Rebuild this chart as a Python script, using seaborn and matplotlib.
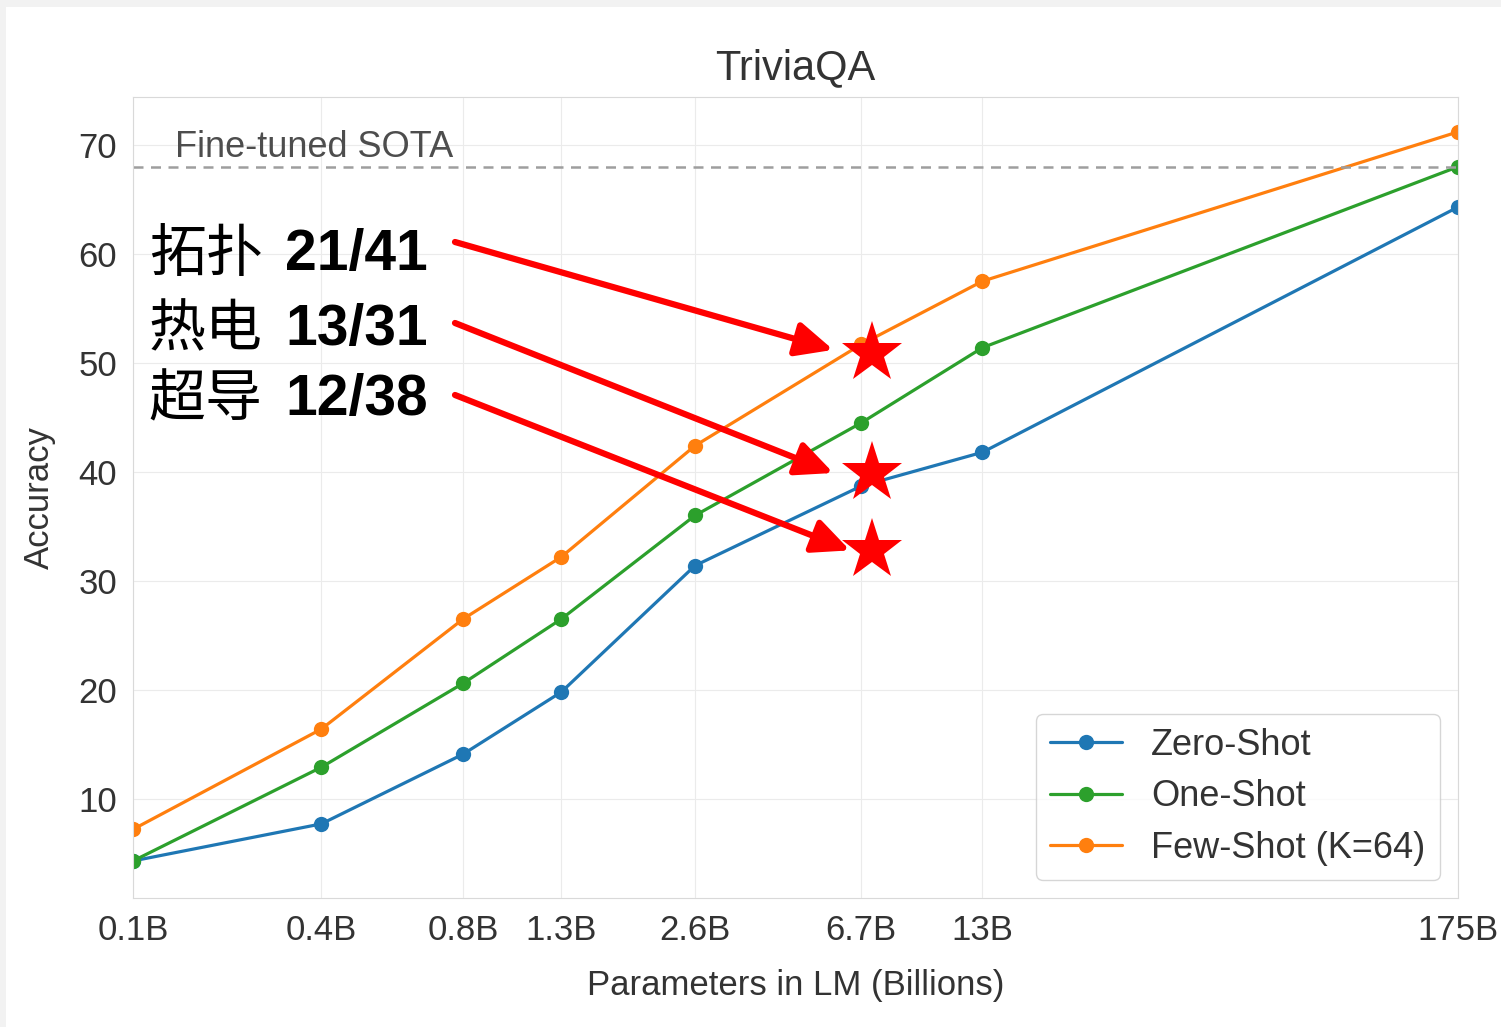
"""
TriviaQA accuracy vs. model size, with annotated stars.
"""
import numpy as np
import pandas as pd
import matplotlib
matplotlib.use("Agg")
import matplotlib.pyplot as plt
import seaborn as sns
from matplotlib.ticker import NullLocator
from matplotlib.patches import Rectangle

# datos
params_b = [0.125, 0.35, 0.76, 1.3, 2.7, 6.7, 13, 175]
tick_labels = ["0.1B", "0.4B", "0.8B", "1.3B", "2.6B", "6.7B", "13B", "175B"]
zero_shot = [4.3, 7.7, 14.1, 19.8, 31.4, 38.7, 41.8, 64.3]
one_shot = [4.3, 12.9, 20.6, 26.5, 36.0, 44.5, 51.4, 68.0]
few_shot = [7.2, 16.4, 26.5, 32.2, 42.4, 51.7, 57.5, 71.2]
series_names = ["Zero-Shot", "One-Shot", "Few-Shot (K=64)"]
sota = 68.0

notes_cn = ["拓扑", "热电", "超导"]
notes_num = ["21/41", "13/31", "12/38"]
star_x = 7.1
star_y = [50.9, 39.9, 32.8]
arrow_tip = [(5.75, 51.2), (5.75, 39.9), (6.3, 32.8)]

df = pd.DataFrame({
    "params": params_b * 3,
    "acc": zero_shot + one_shot + few_shot,
    "setting": [s for s in series_names for _ in params_b],
})

sns.set_style("whitegrid", {"axes.edgecolor": ".85", "grid.color": ".92"})
plt.rcParams["font.family"] = ["Liberation Sans", "Noto Sans CJK SC"]
plt.rcParams["text.color"] = ".2"
plt.rcParams["axes.labelcolor"] = ".2"
plt.rcParams["xtick.color"] = ".2"
plt.rcParams["ytick.color"] = ".2"

fig = plt.figure(figsize=(15.01, 10.27), dpi=100, facecolor="#f2f2f2")
fig.patches.append(Rectangle((6 / 1501, 0), 1, 1 - 7 / 1027, transform=fig.transFigure,
                             facecolor="white", edgecolor="none", zorder=-1))
ax = fig.add_axes([133 / 1501, 1 - 898 / 1027, 1325 / 1501, 801 / 1027])

palette = {"Zero-Shot": "#1f77b4", "One-Shot": "#2ca02c", "Few-Shot (K=64)": "#ff7f0e"}
sns.lineplot(data=df, x="params", y="acc", hue="setting", hue_order=series_names,
             palette=palette, marker="o", markersize=11, markeredgewidth=0,
             linewidth=2.3, ax=ax)

ax.axhline(sota, color="0.62", ls="--", lw=1.8, dashes=(4, 3))
ax.text(0.157, sota + 0.2, "Fine-tuned SOTA", fontsize=26, color="0.3", va="bottom")

ax.set_xscale("log")
ax.set_xlim(params_b[0], params_b[-1])
ax.set_ylim(0.9, 74.4)
ax.set_xticks(params_b)
ax.set_xticklabels(tick_labels)
ax.xaxis.set_minor_locator(NullLocator())
ax.set_yticks([10, 20, 30, 40, 50, 60, 70])
ax.tick_params(labelsize=25, pad=8)

ax.set_title("TriviaQA", fontsize=30, pad=13)
ax.set_xlabel("Parameters in LM (Billions)", fontsize=25, labelpad=16)
ax.set_ylabel("Accuracy", fontsize=25, labelpad=16)

ax.legend(loc="lower right", fontsize=26, frameon=True, borderaxespad=0.5,
          handlelength=2.0, labelspacing=0.45, borderpad=0.4, handletextpad=0.8)

# anotaciones
text_y = [0.803, 0.709, 0.622]
tail = [(455, 242), (455, 323), (455, 395)]
for cn, num, ty, sy, tip, (px, py) in zip(notes_cn, notes_num, text_y, star_y, arrow_tip, tail):
    ax.text(0.012, ty, cn, transform=ax.transAxes, fontsize=41, color="black",
            family="Noto Sans CJK SC", va="center")
    ax.text(0.1147, ty, num, transform=ax.transAxes, fontsize=41, color="black",
            weight="bold", va="center")
    ax.annotate("", xy=tip, xycoords="data",
                xytext=(px / 1501, 1 - py / 1027), textcoords="figure fraction",
                arrowprops=dict(arrowstyle="-|>,head_length=1.4,head_width=0.65",
                                color="red", lw=4.5, mutation_scale=16,
                                shrinkA=0, shrinkB=0))
    ax.plot(star_x, sy, marker="*", color="red", markersize=46, markeredgewidth=0,
            zorder=5, clip_on=False)

fig.savefig("out.png", dpi=100, facecolor=fig.get_facecolor())
